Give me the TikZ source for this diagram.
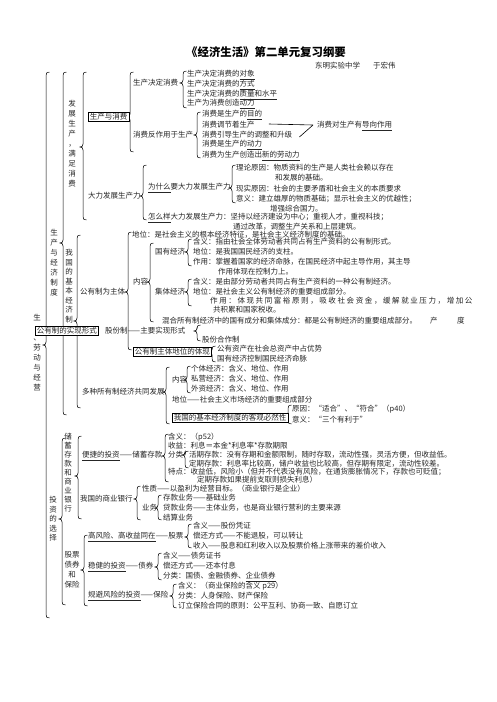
\documentclass[tikz,border=0pt]{standalone}
\usepackage{fontspec}
\setmainfont{Noto Sans CJK SC}
\def\spr#1{\ifx#1\relax\else#1\kern1.6pt\relax\expandafter\spr\fi}
\newcommand\undl[1]{\underline{#1}}
\newcommand\mybrace[4]{\draw[brc] ({#1+3.5},#2) .. controls ({#1+0.5},#2) and (#1,{#2+1}) .. (#1,{#2+4}) -- (#1,{#3-3}) .. controls (#1,{#3-1}) and ({#1-1},#3) .. ({#1-3},#3) .. controls ({#1-1},#3) and (#1,{#3+1}) .. (#1,{#3+3}) -- (#1,{#4-4}) .. controls (#1,{#4-1}) and ({#1+0.5},#4) .. ({#1+3.5},#4);}
\tikzset{
  tx/.style={anchor=west, inner sep=0pt, font=\fontsize{7.5}{9}\selectfont, text=black!85},
  bx/.style={tx, draw=black, fill=white, line width=0.7pt, inner xsep=1.5pt, inner ysep=1.3pt},
  col/.style={inner sep=0pt, align=center, font=\fontsize{7.5}{10}\selectfont, text=black!85},
  brc/.style={line width=0.5pt},
  conn/.style={line width=0.6pt}
}
\begin{document}
\begin{tikzpicture}[x=1pt,y=-1pt]
\fill[white] (0,0) rectangle (496,702);
% title
\node[font=\bfseries\fontsize{11.4}{12}\selectfont] (title) at (266,52) {《经济生活》第二单元复习纲要};
\node[tx] (school) at (315,66) {东明实验中学};
\node[tx] (author) at (373,66) {于宏伟};
% vertical columns
\node[col] (c0) at (37,353) {生\\\phantom{产}\\、\\劳\\动\\与\\经\\营};
\node[col] (c1) at (54,263) {生\\产\\与\\经\\济\\制\\度};
\node[col] (c2) at (72,144) {发\\展\\生\\产\\，\\满\\足\\消\\费};
\node[col,font=\fontsize{7.5}{9.5}\selectfont] (c3) at (69,291) {我\\国\\的\\基\\本\\经\\济\\制\\\phantom{度}};
\node[col,font=\fontsize{7.5}{9.5}\selectfont] (c4) at (53,519) {投\\资\\的\\选\\择};
\node[col,font=\fontsize{7.5}{9}\selectfont] (c5) at (68,473) {储\\蓄\\存\\款\\和\\商\\业\\银\\行};
\node[col] (c6) at (72,570) {股票\\债券\\和\\保险};
% braces
\mybrace{46}{72}{345}{618}
\mybrace{63}{72}{243}{415}
\mybrace{83}{72}{147}{220}
\mybrace{130}{72}{117}{152}
\mybrace{183}{71}{83}{108}
\mybrace{197}{112}{135}{158}
\mybrace{143}{165}{196}{220}
\mybrace{232}{165}{188}{203}
\mybrace{77}{235}{321}{408}
\mybrace{128}{232}{292}{350}
\mybrace{150}{243}{282}{322}
\mybrace{188}{239}{252}{266}
\mybrace{188}{279}{292}{306}
\mybrace{197}{325}{331}{341}
\mybrace{212}{346}{352}{362}
\mybrace{166}{367}{392}{424}
\mybrace{187}{366}{380}{393}
\mybrace{288}{405}{416}{424}
\mybrace{62}{438}{519}{605}
\mybrace{78}{436}{476}{519}
\mybrace{165}{434}{456}{482}
\mybrace{185}{451}{455}{468}
\mybrace{137}{486}{499}{520}
\mybrace{158}{495}{508}{520}
\mybrace{84}{535}{570}{606}
\mybrace{188}{524}{537}{548}
\mybrace{158}{553}{567}{580}
\mybrace{173}{584}{596}{608}
% production and consumption
\node[bx] (scyxf) at (88,117) {生产与消费};
\node[tx] (scjd) at (133,83) {生产决定消费};
\node[tx] (xffz) at (133,135) {消费反作用于生产};
\node[tx] (a1) at (187,75) {生产决定消费的\undl{对象}};
\node[tx] (a2) at (187,85) {生产决定消费的\undl{方式}};
\node[tx] (a3) at (187,95) {生产决定消费的\undl{质量和水平}};
\node[tx] (a4) at (187,104) {生产为消费创造\undl{动力}};
\node[tx] (b1) at (202,115) {消费是生产的\undl{目的}};
\node[tx] (tiaojie) at (202,125) {消费调节着生产};
\node[tx] (yindao) at (202,135) {消费引导生产的调整和升级};
\node[tx] (b4) at (202,145) {消费是生产的\undl{动力}};
\node[tx] (b5) at (202,156) {消费为生产创造出\undl{新的劳动力}};
\node[tx] (daoxiang) at (317,126) {消费对生产有\undl{导向作用}};
\draw[conn] ([xshift=14pt,yshift=1pt]tiaojie.east) -- ([xshift=-4pt,yshift=1pt]daoxiang.west);
\draw[conn] ([xshift=7pt,yshift=-2pt]yindao.east) -- ([xshift=-4pt,yshift=1pt]daoxiang.west);
% develop productive forces
\node[tx] (dl) at (88,196) {大力发展生产力};
\node[tx] (wsm) at (148,188) {\undl{为什么}要大力发展生产力};
\node[tx] (ll) at (236,168) {理论原因：物质资料的生产是人类社会赖以存在};
\node[tx] (ll2) at (275,178) {和发展的基础。};
\node[tx] (xs) at (236,189) {现实原因：社会的主要矛盾和社会主义的本质要求};
\node[tx] (yy) at (236,199) {意义：建立雄厚的物质基础；显示社会主义的优越性；};
\node[tx] (yy2) at (270,209) {增强综合国力。};
\node[tx] (zmy) at (148,218) {\undl{怎么样}大力发展生产力：坚持以经济建设为中心；重视人才，重视科技；};
\node[tx] (zmy2) at (233,227) {通过改革，调整生产关系和上层建筑。};
% public ownership
\node[tx] (dw) at (132,235) {地位：是社会主义的根本经济特征，是社会主义经济制度的基础。};
\node[tx] (gyz) at (80,292) {公有制为主体};
\node[tx] (nr) at (133,282) {内容};
\node[tx] (gyjj) at (155,252) {国有经济};
\node[tx] (g1) at (193,242) {含义：指由社会全体劳动者共同占有生产资料的公有制形式。};
\node[tx] (g2) at (193,252) {地位：是我国国民经济的支柱。};
\node[tx] (g3) at (193,262) {作用：掌握着国家的经济命脉，在国民经济中起主导作用，其主导};
\node[tx] (g4) at (218,272) {作用体现在控制力上。};
\node[tx] (jtjj) at (155,292) {集体经济};
\node[tx] (j1) at (193,282) {含义：是由部分劳动者共同占有生产资料的一种公有制经济。};
\node[tx] (j2) at (193,292) {地位：是社会主义公有制经济的重要组成部分。};
\node[tx] (j3) at (210,301) {\spr 作用：体现共同富裕原则，吸收社会资金，缓解就业压力，增加公\relax};
\node[tx] (j4) at (213,310) {共积累和国家税收。};
\node[tx] (hh) at (162,321) {混合所有制经济中的国有成分和集体成分：都是公有制经济的重要组成部分。};
\node[tx] (hh2) at (430,321) {产};
\node[tx] (hh3) at (457,321) {度};
\node[bx] (sxxs) at (35,331) {公有制的实现形式};
\node[tx] (gfz) at (105,331) {股份制——主要实现形式};
\node[tx] (gfhz) at (202,340) {股份合作制};
\node[bx] (tx1) at (133,352) {公有制主体地位的体现};
\node[tx] (tx2) at (217,349) {公有资产在社会总资产中占优势};
\node[tx] (tx3) at (217,359) {国有经济控制国民经济命脉};
% various ownership
\node[tx] (nr2) at (172,380) {内容};
\node[tx] (d1) at (191,369) {个体经济：含义、地位、作用};
\node[tx] (d2) at (191,379) {私营经济：含义、地位、作用};
\node[tx] (d3) at (191,389) {外资经济：含义、地位、作用};
\node[tx] (dzs) at (82,392) {多种所有制经济共同发展};
\node[tx] (dw2) at (172,400) {地位——社会主义市场经济的重要组成部分};
\node[bx] (kg) at (172,418) {我国的基本经济制度的客观必然性};
\node[tx] (kg1) at (292,409) {原因：“适合”、“符合”（p40）};
\node[tx] (kg2) at (292,420) {意义：“三个有利于”};
% savings
\node[tx] (bj) at (82,456) {\undl{便捷的投资}——储蓄存款};
\node[tx] (s1) at (168,437) {含义：（p52）};
\node[tx] (s2) at (168,446) {收益：利息＝本金*利息率*存款期限};
\node[tx] (s3) at (168,455) {分类};
\node[tx] (s31) at (189,455) {活期存款：没有存期和金额限制，随时存取，流动性强，灵活方便，但收益低。};
\node[tx] (s32) at (189,464) {定期存款：利息率比较高，储户收益也比较高，但存期有限定，流动性较差。};
\node[tx] (s4) at (168,472) {特点：收益低，风险小（但并不代表没有风险，在通货膨胀情况下，存款也可贬值；};
\node[tx] (s5) at (197,480) {定期存款如果提前支取则损失利息）};
% banks
\node[tx] (yh) at (80,499) {我国的商业银行};
\node[tx] (y1) at (142,489) {性质——以盈利为经营目标。（商业银行是企业）};
\node[tx] (yw) at (142,508) {业务};
\node[tx] (y2) at (163,498) {存款业务——基础业务};
\node[tx] (y3) at (163,508) {贷款业务——主体业务，也是商业银行营利的主要来源};
\node[tx] (y4) at (163,518) {结算业务};
% stocks bonds insurance
\node[tx] (gp) at (88,537) {\undl{高风险、高收益同在}——股票};
\node[tx] (p1) at (193,526) {含义——股份凭证};
\node[tx] (p2) at (193,536) {偿还方式——不能退股，可以转让};
\node[tx] (p3) at (193,546) {收入——股息和红利收入以及股票价格上涨带来的差价收入};
\node[tx] (zq) at (88,567) {\undl{稳健的投资}——债券};
\node[tx] (q1) at (163,556) {含义——债务证书};
\node[tx] (q2) at (163,566) {偿还方式——还本付息};
\node[tx] (q3) at (163,577) {分类：国债、金融债券、\undl{企业债券}};
\node[tx] (bx) at (88,596) {\undl{规避风险的投资}——保险};
\node[tx] (x1) at (178,586) {含义：（商业保险的含义 p29）};
\node[tx] (x2) at (178,596) {分类：人身保险、财产保险};
\node[tx] (x3) at (178,606) {订立保险合同的原则：公平互利、协商一致、自愿订立};
\end{tikzpicture}
\end{document}
